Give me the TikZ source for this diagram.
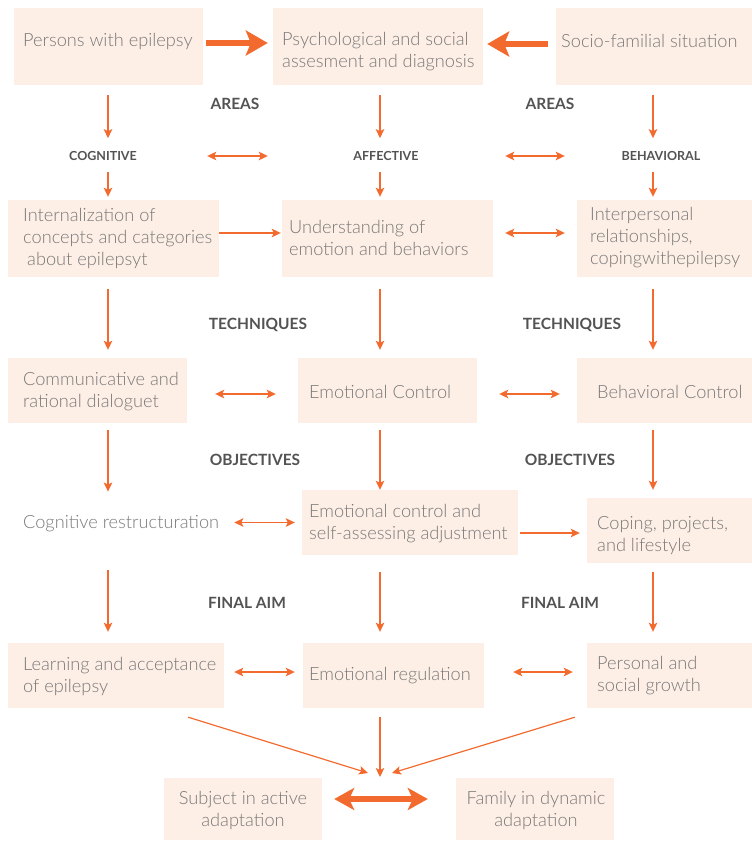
\documentclass[tikz,border=0pt]{standalone}
\usepackage{fontspec}
\setmainfont{Lato}[UprightFont=* Light, BoldFont=* Bold]
\usetikzlibrary{arrows.meta,fit,calc}
\definecolor{boxfill}{HTML}{FEEFE6}
\definecolor{accent}{HTML}{F26A2E}
\definecolor{bodytext}{HTML}{787878}
\definecolor{headtext}{HTML}{535353}
\tikzset{
  panel/.style={fill=boxfill, draw=none, inner sep=0pt},
  body/.style={text=bodytext, inner sep=0pt, align=left, anchor=west,
    font=\fontsize{18.2}{22}\selectfont},
  bodyc/.style={body, align=center, anchor=center},
  heading/.style={text=headtext, inner sep=0pt, font=\fontsize{15.5}{17}\selectfont\bfseries},
  area/.style={text=headtext, inner sep=0pt, font=\fontsize{12.5}{14}\selectfont\bfseries},
  arr/.style={draw=accent, line width=1.4pt, -{Stealth[length=9pt,width=8.5pt,inset=2pt]}},
  darr/.style={draw=accent, line width=1.4pt, {Stealth[length=9pt,width=8.5pt,inset=2pt]}-{Stealth[length=9pt,width=8.5pt,inset=2pt]}},
  bigarr/.style={draw=accent, line width=6pt, -{Stealth[length=22pt,width=25pt,inset=5pt]}},
  bigdarr/.style={draw=accent, line width=6pt, {Stealth[length=20pt,width=22pt,inset=5pt]}-{Stealth[length=20pt,width=22pt,inset=5pt]}},
}
\begin{document}
\begin{tikzpicture}[x=1pt,y=-1pt]
\useasboundingbox (0,0) rectangle (752,841);

% column axes
\coordinate (c1) at (108,0);
\coordinate (c2) at (380,0);
\coordinate (c3) at (653,0);

% panels
\node[panel, fit={(14,8)(203,85)}] (b1) {};
\node[panel, fit={(273,8)(483,85)}] (b2) {};
\node[panel, fit={(556,8)(752,85)}] (b3) {};
\node[panel, fit={(8,200)(219,277)}] (b4) {};
\node[panel, fit={(282,200)(493,277)}] (b5) {};
\node[panel, fit={(577,200)(752,277)}] (b6) {};
\node[panel, fit={(8,358)(187,423)}] (b7) {};
\node[panel, fit={(298,358)(477,423)}] (b8) {};
\node[panel, fit={(577,358)(752,423)}] (b9) {};
\node[panel, fit={(302,490)(518,555)}] (b10) {};
\node[panel, fit={(587,498)(752,563)}] (b11) {};
\node[panel, fit={(8,643)(224,708)}] (b12) {};
\node[panel, fit={(303,643)(484,708)}] (b13) {};
\node[panel, fit={(587,643)(752,708)}] (b14) {};
\node[panel, fit={(164,778)(322,840)}] (b15) {};
\node[panel, fit={(456,778)(614,840)}] (b16) {};

% panel texts
\node[body] (t1) at (23,41) {Persons with epilepsy};
\node[body] (t2) at (282,52) {Psychological and social\\assesment and diagnosis};
\node[body] (t3) at (561,41) {Socio-familial situation};
\node[body] (t4) at (23,238) {Internalization of\\concepts and categories\\\hspace{4pt}about epilepsyt};
\node[body] (t5) at (289,238) {Understanding of\\emotion and behaviors};
\node[body] (t6) at (590,238) {Interpersonal\\relationships,\\copingwithepilepsy};
\node[body] (t7) at (23,392) {Communicative and\\rational dialoguet};
\node[body] (t8) at (309,392) {Emotional Control};
\node[body] (t9) at (597,392) {Behavioral Control};
\node[body] (cr) at (23,524) {Cognitive restructuration};
\node[body] (t10) at (309,524) {Emotional control and\\self-assessing adjustment};
\node[body] (t11) at (597,536) {Coping, projects,\\and lifestyle};
\node[body] (t12) at (23,676) {Learning and acceptance\\of epilepsy};
\node[body] (t13) at (309,676) {Emotional regulation};
\node[body] (t14) at (597,676) {Personal and\\social growth};
\node[bodyc] (t15) at (243,810) {Subject in active\\adaptation};
\node[bodyc] (t16) at (536,810) {Family in dynamic\\adaptation};

% headings
\node[heading] (h1) at (235,104) {AREAS};
\node[heading] (h2) at (550,104) {AREAS};
\node[heading] (h3) at (258,325) {TECHNIQUES};
\node[heading] (h4) at (572,325) {TECHNIQUES};
\node[heading] (h5) at (255,460) {OBJECTIVES};
\node[heading] (h6) at (570,460) {OBJECTIVES};
\node[heading] (h7) at (247,603) {FINAL AIM};
\node[heading] (h8) at (560,603) {FINAL AIM};
\node[area] (cog) at (103,156) {COGNITIVE};
\node[area] (aff) at (386,156) {AFFECTIVE};
\node[area] (beh) at (661,156) {BEHAVIORAL};

% thick arrows into the assessment
\draw[bigarr, shorten <=3pt, shorten >=5pt] ([yshift=3.5pt]b1.east) -- ([yshift=3.5pt]b2.west);
\draw[bigarr, shorten <=8pt, shorten >=4pt] ([yshift=2.5pt]b3.west) -- ([yshift=2.5pt]b2.east);

% first level: areas
\draw[arr, shorten <=10pt, shorten >=13pt] (c1 |- b1.south) -- (c1 |- cog.north);
\draw[arr, shorten <=10pt, shorten >=13pt] (c2 |- b2.south) -- (c2 |- aff.north);
\draw[arr, shorten <=10pt, shorten >=13pt] (c3 |- b3.south) -- (c3 |- beh.north);
\draw[darr, shorten <=4pt, shorten >=5pt] (b1.east |- aff.west) -- (b2.west |- aff.west);
\draw[darr, shorten <=12pt, shorten >=12pt] (b5.east |- aff.west) -- (b6.west |- aff.west);
\draw[arr, shorten <=11pt, shorten >=3pt] (c1 |- cog.south) -- (c1 |- b4.north);
\draw[arr, shorten <=11pt, shorten >=3pt] (c2 |- aff.south) -- (c2 |- b5.north);
\draw[arr, shorten <=11pt, shorten >=3pt] (c3 |- beh.south) -- (c3 |- b6.north);

% second level
\draw[arr, shorten >=1pt] ([yshift=5.5pt]b4.east) -- ([yshift=5.5pt]b5.west);
\draw[darr, shorten <=12pt, shorten >=12pt] ([yshift=5.5pt]b5.east) -- ([yshift=5.5pt]b6.west);
\draw[arr, shorten <=12pt, shorten >=8pt] (c1 |- b4.south) -- (c1 |- b7.north);
\draw[arr, shorten <=12pt, shorten >=8pt] (c2 |- b5.south) -- (c2 |- b8.north);
\draw[arr, shorten <=12pt, shorten >=8pt] (c3 |- b6.south) -- (c3 |- b9.north);

% techniques
\draw[darr, shorten <=28pt, shorten >=22pt] ([yshift=-3.5pt]b7.east) -- ([yshift=-3.5pt]b8.west);
\draw[darr, shorten <=22pt, shorten >=17pt] ([yshift=-3.5pt]b8.east) -- ([yshift=-3.5pt]b9.west);
\draw[arr, shorten <=7pt, shorten >=24pt] (c1 |- b7.south) -- (c1 |- cr.north);
\draw[arr, shorten <=7pt] (c2 |- b8.south) -- (c2 |- b10.north);
\draw[arr, shorten <=7pt, shorten >=8pt] (c3 |- b9.south) -- (c3 |- b11.north);

% objectives
\draw[darr, shorten <=15pt, shorten >=7pt] (cr.east |- b10.west) -- (b10.west);
\draw[arr, shorten <=2pt, shorten >=7pt] ([yshift=-10.5pt]b10.east) -- ([yshift=-2.5pt]b11.west);
\draw[arr, shorten <=38pt, shorten >=11pt] (c1 |- cr.south) -- (c1 |- b12.north);
\draw[arr, shorten <=17pt, shorten >=11pt] (c2 |- b10.south) -- (c2 |- b13.north);
\draw[arr, shorten <=9pt, shorten >=11pt] (c3 |- b11.south) -- (c3 |- b14.north);

% final aims
\draw[darr, shorten <=10pt, shorten >=8pt] ([yshift=3.5pt]b12.east) -- ([yshift=3.5pt]b13.west);
\draw[darr, shorten <=29pt, shorten >=14pt] ([yshift=3.5pt]b13.east) -- ([yshift=3.5pt]b14.west);

% convergence towards adaptation
\coordinate (hub) at (380,777);
\draw[arr, line width=1.2pt] ($(b12.south east)+(-36,9)$) -- ($(hub)+(-12,-4)$);
\draw[arr, line width=1.2pt, shorten <=9pt] (c2 |- b13.south) -- (hub);
\draw[arr, line width=1.2pt] ($(b14.south west)+(-12,9)$) -- ($(hub)+(12,-4)$);
\draw[bigdarr, shorten <=12pt, shorten >=28pt] ([yshift=10pt]b15.east) -- ([yshift=10pt]b16.west);
\end{tikzpicture}
\end{document}
